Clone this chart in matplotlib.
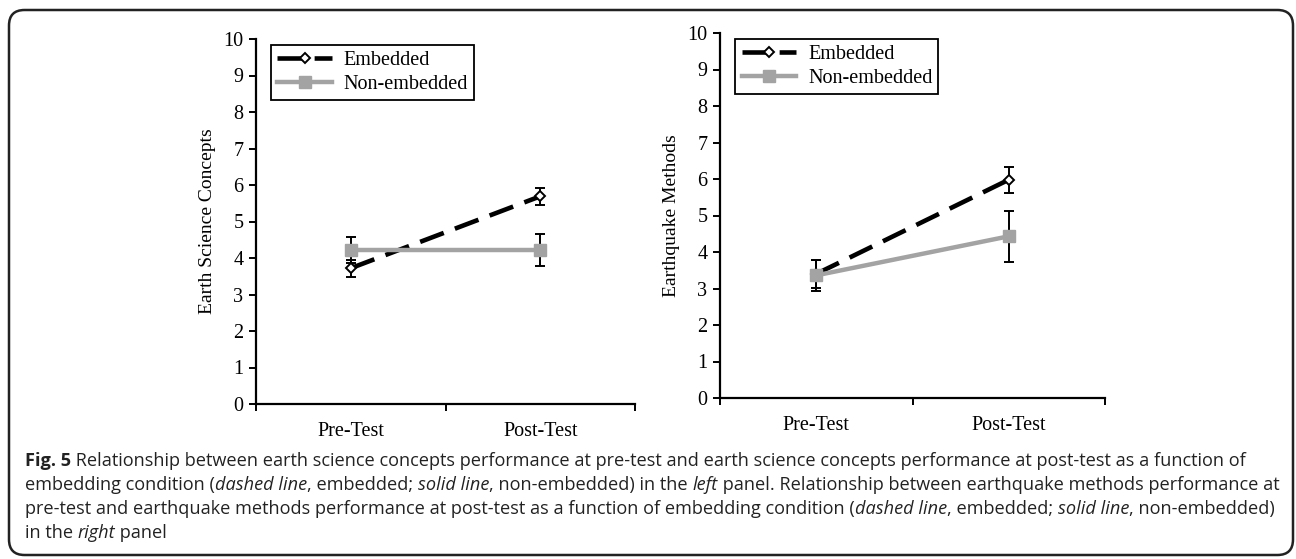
import matplotlib
matplotlib.use('Agg')
import matplotlib.pyplot as plt
import numpy as np
from matplotlib.patches import FancyBboxPatch

# -------------------------- data --------------------------
tests = ['Pre-Test', 'Post-Test']
series_names = ['Embedded', 'Non-embedded']

esc_embedded = [3.72, 5.69]
esc_embedded_err = [0.23, 0.24]
esc_nonembedded = [4.22, 4.22]
esc_nonembedded_err = [0.35, 0.44]

eq_embedded = [3.40, 5.98]
eq_embedded_err = [0.38, 0.36]
eq_nonembedded = [3.36, 4.43]
eq_nonembedded_err = [0.42, 0.70]

y_ticks = list(range(0, 11))

caption_lines = [
    [('Fig. 5', 'bold'), (' Relationship between earth science concepts performance at pre-test and earth science concepts performance at post-test as a function of', 'normal')],
    [('embedding condition (', 'normal'), ('dashed line', 'italic'), (', embedded; ', 'normal'), ('solid line', 'italic'),
     (', non-embedded) in the ', 'normal'), ('left', 'italic'), (' panel. Relationship between earthquake methods performance at', 'normal')],
    [('pre-test and earthquake methods performance at post-test as a function of embedding condition (', 'normal'), ('dashed line', 'italic'),
     (', embedded; ', 'normal'), ('solid line', 'italic'), (', non-embedded)', 'normal')],
    [('in the ', 'normal'), ('right', 'italic'), (' panel', 'normal')],
]

# -------------------------- figure --------------------------
W, H = 1296, 559
plt.rcParams['font.family'] = ['Liberation Serif', 'DejaVu Serif']
fig = plt.figure(figsize=(W / 100, H / 100), dpi=100)

gray = '#a3a3a3'
x = np.array([0.5, 1.5])
tick_fs = 14.5


def draw_panel(ax, emb, emb_err, non, non_err, ylabel):
    ax.errorbar(x, non, yerr=non_err, fmt='none', ecolor='black', elinewidth=1.4,
                capsize=3.5, capthick=1.4, zorder=2)
    ax.errorbar(x, emb, yerr=emb_err, fmt='none', ecolor='black', elinewidth=1.4,
                capsize=3.5, capthick=1.4, zorder=2)
    ax.plot(x, emb, color='black', linestyle=(0, (5.5, 2.6)), linewidth=3.3,
            marker='D', markersize=5.5, markerfacecolor='white', markeredgecolor='black',
            markeredgewidth=1.4, label=series_names[0], zorder=3)
    ax.plot(x, non, color=gray, linestyle='-', linewidth=3.2,
            marker='s', markersize=8.5, markerfacecolor=gray, markeredgecolor=gray,
            label=series_names[1], zorder=4)

    ax.set_xlim(0, 2)
    ax.set_ylim(0, 10)
    ax.set_yticks(y_ticks)
    ax.set_xticks([0, 1, 2])
    ax.set_xticklabels([])
    ax.set_xticks(x, minor=True)
    ax.set_xticklabels(tests, minor=True)
    ax.tick_params(axis='x', which='minor', length=0, pad=13, labelsize=tick_fs)
    ax.tick_params(axis='x', which='major', length=5, width=1.4, direction='out')
    ax.tick_params(axis='y', length=5, width=1.4, direction='out', labelsize=tick_fs, pad=4)
    ax.set_ylabel(ylabel, fontsize=14, labelpad=5)

    for s in ['top', 'right']:
        ax.spines[s].set_visible(False)
    for s in ['left', 'bottom']:
        ax.spines[s].set_linewidth(1.6)

    leg = ax.legend(loc='upper left', bbox_to_anchor=(0.035, 0.99), fontsize=14.5,
                    frameon=True, fancybox=False, edgecolor='black', framealpha=1,
                    handlelength=2.7, handletextpad=0.6, borderpad=0.3,
                    labelspacing=0.25, borderaxespad=0.1)
    leg.get_frame().set_linewidth(1.3)


ax1 = fig.add_axes([256 / W, 1 - 404 / H, 379 / W, 365 / H])
draw_panel(ax1, esc_embedded, esc_embedded_err, esc_nonembedded, esc_nonembedded_err,
           'Earth Science Concepts')

ax2 = fig.add_axes([720 / W, 1 - 398 / H, 385 / W, 365 / H])
draw_panel(ax2, eq_embedded, eq_embedded_err, eq_nonembedded, eq_nonembedded_err,
           'Earthquake Methods')

# rounded frame around everything
frame = FancyBboxPatch((9 / W, 4 / H), 1284 / W, 545 / H,
                       boxstyle='round,pad=0,rounding_size=0.012',
                       transform=fig.transFigure, fill=False,
                       edgecolor='#222222', linewidth=1.8,
                       mutation_aspect=W / H)
fig.patches.append(frame)

# -------------------------- caption --------------------------
renderer = fig.canvas.get_renderer()
cap_family = ['Open Sans', 'DejaVu Sans']


def style_of(st):
    if st == 'bold':
        return dict(fontweight='bold', fontstyle='normal')
    if st == 'italic':
        return dict(fontweight='normal', fontstyle='italic')
    return dict(fontweight='normal', fontstyle='normal')


def line_width(segs, size):
    total = 0
    for txt, st in segs:
        t = fig.text(0, 0, txt, fontsize=size, family=cap_family, **style_of(st))
        total += t.get_window_extent(renderer).width
        t.remove()
    return total


cap_size = 12.0
target = 1243 - 25
cap_size *= target / line_width(caption_lines[0], cap_size)

baselines = [466, 490, 514, 538]
for segs, yb in zip(caption_lines, baselines):
    xp = 25
    for txt, st in segs:
        t = fig.text(xp / W, 1 - yb / H, txt, fontsize=cap_size, family=cap_family,
                     ha='left', va='baseline', color='#222222', **style_of(st))
        xp += t.get_window_extent(renderer).width

fig.savefig('out.png', dpi=100)
